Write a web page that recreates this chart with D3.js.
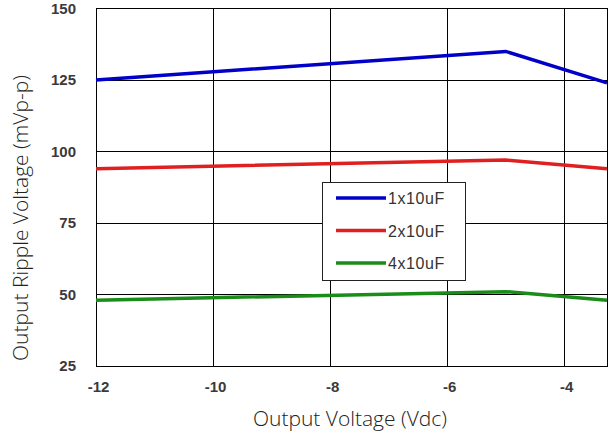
<!DOCTYPE html>
<html><head><meta charset="utf-8">
<script src="https://cdn.jsdelivr.net/npm/d3@7"></script>
<style>body{margin:0;background:#fff}svg{display:block}</style>
</head><body>
<svg id="c" width="609" height="439"></svg>
<script>
const xValues = [-12, -5, -3.27];
const s1x10 = [125, 135, 124];
const s2x10 = [94, 97, 94];
const s4x10 = [48, 51, 48];
const seriesNames = ["1x10uF", "2x10uF", "4x10uF"];
const seriesColors = ["#0000c8", "#e02020", "#1a8c1a"];
const xTicks = [-12, -10, -8, -6, -4];
const yTicks = [25, 50, 75, 100, 125, 150];

const svg = d3.select("#c");
const L = 96, R = 607, T = 8.5, B = 366;
const x = d3.scaleLinear().domain([-12, -3.27]).range([L, R]);
const y = d3.scaleLinear().domain([25, 150]).range([B, T]);

// grid
svg.append("g").selectAll("line").data(xTicks).join("line")
  .attr("x1", d => x(d)).attr("x2", d => x(d)).attr("y1", T).attr("y2", B)
  .attr("stroke", "#000").attr("stroke-width", 1).attr("shape-rendering", "crispEdges");
svg.append("g").selectAll("line").data(yTicks).join("line")
  .attr("x1", L).attr("x2", R).attr("y1", d => y(d)).attr("y2", d => y(d))
  .attr("stroke", "#000").attr("stroke-width", 1).attr("shape-rendering", "crispEdges");
svg.append("rect").attr("x", L).attr("y", T).attr("width", R - L).attr("height", B - T)
  .attr("fill", "none").attr("stroke", "#000").attr("stroke-width", 1).attr("shape-rendering", "crispEdges");

const tickFont = "Arial, 'Liberation Sans', sans-serif";
// axes labels
const xAxis = d3.axisBottom(x).tickValues(xTicks).tickSize(0).tickFormat(d => String(d));
const gx = svg.append("g").attr("transform", `translate(0,${B})`).call(xAxis);
gx.select(".domain").remove();
gx.selectAll("text").attr("y", 26).attr("dy", 0).attr("dx", 2)
  .attr("font-family", tickFont).attr("font-size", 15)
  .attr("font-weight", "bold").attr("fill", "#3a3a3a");
const yAxis = d3.axisLeft(y).tickValues(yTicks).tickSize(0).tickPadding(20);
const gy = svg.append("g").attr("transform", `translate(${L},0)`).call(yAxis);
gy.select(".domain").remove();
gy.selectAll("text").attr("font-family", tickFont).attr("font-size", 15)
  .attr("font-weight", "bold").attr("fill", "#3a3a3a");

// lines
const data = [s1x10, s2x10, s4x10];
const line = d3.line().x((d, i) => x(xValues[i])).y(d => y(d));
svg.append("g").selectAll("path").data(data).join("path")
  .attr("d", d => line(d)).attr("fill", "none")
  .attr("stroke", (d, i) => seriesColors[i]).attr("stroke-width", 3.5);

// legend
const lg = svg.append("g");
lg.append("rect").attr("x", 322).attr("y", 182).attr("width", 143).attr("height", 98)
  .attr("fill", "#fff").attr("stroke", "#222").attr("stroke-width", 1).attr("shape-rendering", "crispEdges");
seriesNames.forEach((n, i) => {
  const yy = 198 + i * 32.5;
  lg.append("line").attr("x1", 336).attr("x2", 386).attr("y1", yy).attr("y2", yy)
    .attr("stroke", seriesColors[i]).attr("stroke-width", 3.5);
  lg.append("text").attr("x", 388).attr("y", yy + 6).text(n)
    .attr("font-family", tickFont).attr("font-size", 16).attr("letter-spacing", 0.6).attr("fill", "#333");
});

// titles
svg.append("text").attr("x", 350).attr("y", 426).attr("text-anchor", "middle")
  .attr("font-family", "'Open Sans', sans-serif").attr("font-size", 21).attr("font-weight", 300).attr("fill", "#222")
  .text("Output Voltage (Vdc)");
svg.append("text").attr("transform", "translate(28,218) rotate(-90)").attr("text-anchor", "middle")
  .attr("font-family", "'Open Sans', sans-serif").attr("font-size", 21).attr("font-weight", 300).attr("fill", "#222")
  .text("Output Ripple Voltage (mVp-p)");
</script>
</body></html>
